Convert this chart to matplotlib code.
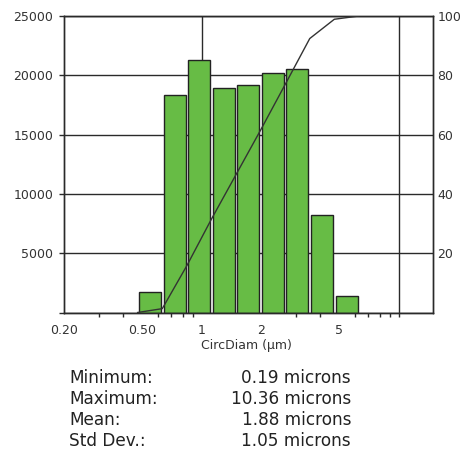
import numpy as np
import matplotlib
matplotlib.use("Agg")
import matplotlib.pyplot as plt
from matplotlib.ticker import FixedLocator, NullFormatter, FixedFormatter

# ---------------- data ----------------
bin_edges = [0.473, 0.631, 0.841, 1.121, 1.494, 1.991, 2.654, 3.538, 4.716, 6.287]  # µm
counts = [1700, 18300, 21250, 18900, 19200, 20200, 20500, 8200, 1400]
cum_pct = [0, 1.3, 15.8, 31.5, 46.5, 61.5, 76.9, 92.4, 98.9, 100.0]

x_major_ticks = [0.2, 0.5, 1, 2, 5]
x_major_labels = ["0.20", "0.50", "1", "2", "5"]
x_minor_ticks = [0.3, 0.4, 0.5, 0.6, 0.7, 0.8, 0.9, 1, 2, 3, 4, 5, 6, 7, 8, 9, 10]
x_grid = [1, 10]
y_left_ticks = [0, 5000, 10000, 15000, 20000, 25000]
y_left_labels = ["", "5000", "10000", "15000", "20000", "25000"]
y_right_ticks = [20, 40, 60, 80, 100]
y_right_labels = ["20", "40", "60", "80", "100"]
x_label = "CircDiam (µm)"

stat_names = ["Minimum:", "Maximum:", "Mean:", "Std Dev.:"]
stat_values = ["0.19 microns", "10.36 microns", "1.88 microns", "1.05 microns"]

# ---------------- figure ----------------
W, H = 463, 458
fig = plt.figure(figsize=(W / 100, H / 100), dpi=100)
plt.rcParams['font.family'] = ['DejaVu Sans']

L, R, T, B = 64, 433.3, 16, 312.5
ax = fig.add_axes([L / W, 1 - B / H, (R - L) / W, (B - T) / H])
ax.set_xscale("log")
ax.set_xlim(0.2, 15)
ax.set_ylim(0, 25000)

txt = "#333333"
gridc = "#2a2a2a"

# horizontal grid
ax.set_yticks(y_left_ticks)
ax.set_yticklabels(y_left_labels)
ax.yaxis.grid(True, color=gridc, lw=1.0, zorder=0)
for gx in x_grid:
    ax.axvline(gx, color=gridc, lw=1.0, zorder=0.5)
ax.set_axisbelow(True)

# bars (with small gap)
edges = np.array(bin_edges)
gap = 0.053
lefts, widths = [], []
for i in range(len(counts)):
    lo, hi = np.log10(edges[i]), np.log10(edges[i + 1])
    p = hi - lo
    l = 10 ** (lo + p * gap)
    r = 10 ** (hi - p * gap)
    lefts.append(l)
    widths.append(r - l)
ax.bar(lefts, counts, width=widths, align="edge", color="#67BC45",
       edgecolor="#222222", linewidth=1.0, zorder=2)

# ticks x
ax.xaxis.set_major_locator(FixedLocator(x_major_ticks))
ax.xaxis.set_major_formatter(FixedFormatter(x_major_labels))
ax.xaxis.set_minor_locator(FixedLocator(x_minor_ticks))
ax.xaxis.set_minor_formatter(NullFormatter())
ax.tick_params(axis="x", which="major", length=0, pad=8.5, labelsize=9, labelcolor=txt)
ax.tick_params(axis="x", which="minor", length=3, width=1.0, color=gridc, direction="out")
ax.tick_params(axis="y", which="major", length=3.4, width=1.0, color=gridc, pad=4.3,
               labelsize=9, labelcolor=txt)

for s in ax.spines.values():
    s.set_color(gridc)
    s.set_linewidth(1.0)

ax.set_xlabel(x_label, fontsize=9, color=txt)
ax.xaxis.set_label_coords((246 - L) / (R - L), -(345 - B) / (B - T))
ax.xaxis.label.set_va("center")

# cumulative line on right axis
ax2 = ax.twinx()
ax2.set_ylim(0, 100)
ax2.plot(bin_edges, cum_pct, color="#333333", lw=1.0, zorder=3)
ax2.set_yticks(y_right_ticks)
ax2.set_yticklabels(y_right_labels)
ax2.tick_params(axis="y", length=0, pad=3, labelsize=9, labelcolor=txt)
for s in ax2.spines.values():
    s.set_color(gridc)
    s.set_linewidth(1.0)

# statistics text
row_base = [383.3, 404.2, 425.1, 446.0]
for name, val, yb in zip(stat_names, stat_values, row_base):
    fig.text(69 / W, 1 - yb / H, name, ha="left", va="baseline", fontsize=12.2, color="#222222")
    fig.text(351 / W, 1 - yb / H, val, ha="right", va="baseline", fontsize=12.2, color="#222222")

fig.savefig("out.png", dpi=100, facecolor="white")
